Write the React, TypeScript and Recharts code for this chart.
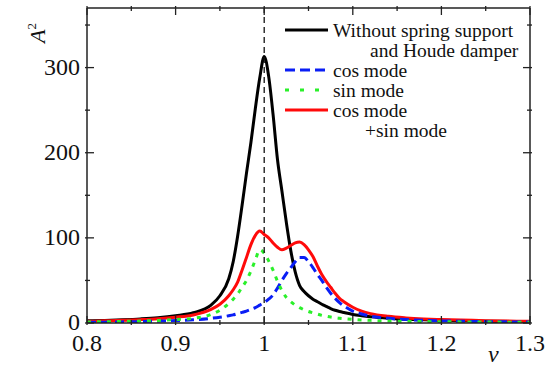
import React from 'react';
import { LineChart, Line, XAxis, YAxis, ReferenceLine } from 'recharts';

// ---- data ----
const NU = [
  0.8, 0.82, 0.84, 0.86, 0.88, 0.9, 0.92, 0.94, 0.95, 0.96,
  0.965, 0.97, 0.975, 0.98, 0.985, 0.99, 0.995, 1.0, 1.005, 1.01,
  1.015, 1.02, 1.025, 1.03, 1.035, 1.04, 1.045, 1.05, 1.055, 1.06,
  1.065, 1.07, 1.075, 1.08, 1.085, 1.09, 1.1, 1.11, 1.12, 1.14,
  1.16, 1.18, 1.2, 1.25, 1.3,
];

const WITHOUT_SUPPORT = [
  2.5, 3, 3.8, 4.8, 6.2, 8.5, 12, 21, 32, 52,
  72, 102, 138, 176, 212, 252, 288, 313, 290, 245,
  192, 155, 118, 85, 60, 44, 37, 32, 28, 25,
  22, 19.5, 17, 15, 13.5, 12.3, 10, 8.5, 7.3, 5.6,
  4.5, 3.7, 3.1, 2.2, 1.6,
];

const COS_MODE = [
  0.8, 1, 1.3, 1.6, 2.1, 2.8, 3.8, 5.5, 6.8, 8.5,
  9.5, 11, 12.5, 14, 16, 18, 21, 24, 28, 33,
  41, 50, 58, 65, 72, 77, 77, 72, 65, 57,
  50, 42, 35, 29, 24, 20, 14, 10.5, 8, 5.5,
  4, 3.1, 2.5, 1.6, 1.1,
];

const SIN_MODE = [
  1.2, 1.5, 1.8, 2.3, 3, 4, 5.5, 10, 15, 23,
  28, 34, 42, 50, 61, 74, 86, 82, 73, 62,
  49, 38, 30, 25, 21, 18, 15.5, 13.5, 12, 10.5,
  9, 8, 7, 6.2, 5.5, 5, 4.2, 3.6, 3.1, 2.4,
  2, 1.7, 1.5, 1.1, 0.9,
];

const COS_PLUS_SIN = [
  2, 2.5, 3.1, 3.9, 5, 6.8, 9.5, 16, 22, 32,
  39, 48, 62, 77, 92, 103, 108, 104, 100, 94,
  89, 86, 88, 91, 94, 95, 92, 86, 78, 67,
  57, 49, 42, 35, 29, 25, 18.5, 14, 11, 7.8,
  6, 4.8, 4, 2.7, 2,
];

const X_MAJOR = [0.8, 0.9, 1.0, 1.1, 1.2, 1.3];
const X_MAJOR_LABELS = ['0.8', '0.9', '1', '1.1', '1.2', '1.3'];
const X_MINOR = [0.85, 0.95, 1.05, 1.15, 1.25];
const Y_MAJOR = [0, 100, 200, 300];
const Y_MAJOR_LABELS = ['0', '100', '200', '300'];
const Y_MINOR = [50, 150, 250, 350];

const RESONANCE_NU = 1.0;

const LEGEND_LABELS = [
  ['Without spring support', 'and Houde damper'],
  ['cos mode'],
  ['sin mode'],
  ['cos mode', '+sin mode'],
];

// ---- styles ----
const FONT = '"Liberation Serif", "Times New Roman", Times, serif';
const AXIS = '#222';
const TICK_FONT = 24;
const SERIES = [
  { key: 'without', color: '#000000', width: 3, dash: undefined as string | undefined, legendDash: undefined as string | undefined },
  { key: 'cos', color: '#0a1ef5', width: 3, dash: '9 5', legendDash: '10 5' },
  { key: 'sin', color: '#2af02a', width: 3, dash: '4 6', legendDash: '4 11' },
  { key: 'sum', color: '#ff0a0a', width: 3, dash: undefined, legendDash: undefined },
];
const DRAW_ORDER = ['without', 'sum', 'cos', 'sin'];

const DATA = NU.map((nu, i) => ({
  nu,
  without: WITHOUT_SUPPORT[i],
  cos: COS_MODE[i],
  sin: SIN_MODE[i],
  sum: COS_PLUS_SIN[i],
}));

const X_TICKS = [...X_MAJOR, ...X_MINOR].sort((a, b) => a - b);
const Y_TICKS = [...Y_MAJOR, ...Y_MINOR].sort((a, b) => a - b);

const majorIndex = (arr: number[], v: number) => arr.findIndex((m) => Math.abs(m - v) < 1e-9);

const XTickBottom = (p: any) => {
  const idx = majorIndex(X_MAJOR, p.payload.value);
  const len = idx >= 0 ? 9 : 5;
  return (
    <g>
      <line x1={p.x} y1={p.y} x2={p.x} y2={p.y - len} stroke={AXIS} strokeWidth={1.3} />
      {idx >= 0 && (
        <text x={p.x} y={p.y + 26} textAnchor="middle" style={{ fontFamily: FONT }} fontSize={TICK_FONT} fill="#111">
          {X_MAJOR_LABELS[idx]}
        </text>
      )}
    </g>
  );
};

const XTickTop = (p: any) => {
  const idx = majorIndex(X_MAJOR, p.payload.value);
  const len = idx >= 0 ? 9 : 5;
  return <line x1={p.x} y1={p.y} x2={p.x} y2={p.y + len} stroke={AXIS} strokeWidth={1.3} />;
};

const YTickLeft = (p: any) => {
  const idx = majorIndex(Y_MAJOR, p.payload.value);
  const len = idx >= 0 ? 9 : 5;
  return (
    <g>
      <line x1={p.x} y1={p.y} x2={p.x + len} y2={p.y} stroke={AXIS} strokeWidth={1.3} />
      {idx >= 0 && (
        <text x={p.x - 5} y={p.y + 7} textAnchor="end" style={{ fontFamily: FONT }} fontSize={TICK_FONT} fill="#111">
          {Y_MAJOR_LABELS[idx]}
        </text>
      )}
    </g>
  );
};

const YTickRight = (p: any) => {
  const idx = majorIndex(Y_MAJOR, p.payload.value);
  const len = idx >= 0 ? 9 : 5;
  return <line x1={p.x} y1={p.y} x2={p.x - len} y2={p.y} stroke={AXIS} strokeWidth={1.3} />;
};

const YTitle = () => (
  <text
    x={45}
    y={43}
    transform="rotate(-90, 45, 43)"
    style={{ fontFamily: FONT }}
    fontSize={22}
    fill="#111"
  >
    <tspan fontStyle="italic">A</tspan>
    <tspan dy={-9} fontSize={13}>2</tspan>
  </text>
);

const XTitle = () => (
  <text x={488} y={362} style={{ fontFamily: FONT }} fontSize={24} fontStyle="italic" fill="#111">
    ν
  </text>
);

const Legend = () => {
  const rows: React.ReactNode[] = [];
  let baseline = 36.5;
  LEGEND_LABELS.forEach((lines, i) => {
    const s = SERIES[i];
    rows.push(
      <line
        key={`l${i}`}
        x1={285}
        x2={328}
        y1={baseline - 6.5}
        y2={baseline - 6.5}
        stroke={s.color}
        strokeWidth={s.width}
        strokeDasharray={s.legendDash}
      />
    );
    lines.forEach((t, j) => {
      rows.push(
        <text
          key={`t${i}_${j}`}
          x={j === 0 ? 333 : i === 0 ? 370 : 365}
          y={baseline}
          style={{ fontFamily: FONT }}
          fontSize={19.5}
          fill="#111"
        >
          {t}
        </text>
      );
      baseline += 20;
    });
  });
  return (
    <svg width={551} height={369} style={{ position: 'absolute', left: 0, top: 0, pointerEvents: 'none' }}>
      {rows}
    </svg>
  );
};

export default function App() {
  return (
    <div style={{ position: 'absolute', left: 0, top: 0, width: 551, height: 369, background: '#fff' }}>
      <LineChart width={551} height={369} data={DATA} margin={{ top: 0, right: 0, bottom: 0, left: 0 }}>
        <XAxis
          xAxisId="b"
          dataKey="nu"
          type="number"
          domain={[0.8, 1.3]}
          ticks={X_TICKS}
          interval={0}
          tickSize={0}
          tickLine={false}
          tick={<XTickBottom />}
          axisLine={{ stroke: AXIS, strokeWidth: 1.5 }}
          height={46}
          allowDataOverflow
          label={<XTitle />}
        />
        <XAxis
          xAxisId="t"
          orientation="top"
          dataKey="nu"
          type="number"
          domain={[0.8, 1.3]}
          ticks={X_TICKS}
          interval={0}
          tickSize={0}
          tickLine={false}
          tick={<XTickTop />}
          axisLine={{ stroke: AXIS, strokeWidth: 1.5 }}
          height={8}
          allowDataOverflow
        />
        <YAxis
          yAxisId="l"
          type="number"
          domain={[0, 370]}
          ticks={Y_TICKS}
          interval={0}
          tickSize={0}
          tickLine={false}
          tick={<YTickLeft />}
          axisLine={{ stroke: AXIS, strokeWidth: 1.5 }}
          width={87}
          allowDataOverflow
          label={<YTitle />}
        />
        <YAxis
          yAxisId="r"
          orientation="right"
          type="number"
          domain={[0, 370]}
          ticks={Y_TICKS}
          interval={0}
          tickSize={0}
          tickLine={false}
          tick={<YTickRight />}
          axisLine={{ stroke: AXIS, strokeWidth: 1.5 }}
          width={21}
          allowDataOverflow
        />
        {DRAW_ORDER.map((k) => {
          const s = SERIES.find((x) => x.key === k)!;
          return (
            <Line
              key={k}
              xAxisId="b"
              yAxisId="l"
              dataKey={k}
              type="monotone"
              stroke={s.color}
              strokeWidth={s.width}
              strokeDasharray={s.dash}
              dot={false}
              activeDot={false}
              isAnimationActive={false}
            />
          );
        })}
        <ReferenceLine
          xAxisId="b"
          yAxisId="l"
          x={RESONANCE_NU}
          stroke="#111"
          strokeWidth={1.3}
          strokeDasharray="6 4"
        />
      </LineChart>
      <Legend />
    </div>
  );
}
